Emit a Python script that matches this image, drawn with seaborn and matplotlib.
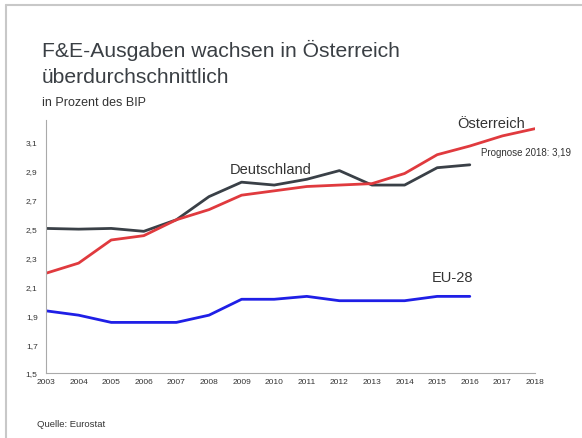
import matplotlib
matplotlib.use("Agg")
import matplotlib.pyplot as plt
import seaborn as sns
import pandas as pd
from matplotlib.lines import Line2D

years = list(range(2003, 2019))
deutschland = [2.50, 2.495, 2.50, 2.48, 2.56, 2.72, 2.82, 2.80, 2.84, 2.90, 2.80, 2.80, 2.92, 2.94]
oesterreich = [2.19, 2.26, 2.42, 2.45, 2.56, 2.63, 2.73, 2.76, 2.79, 2.80, 2.81, 2.88, 3.01, 3.07, 3.14, 3.19]
eu28 = [1.93, 1.90, 1.85, 1.85, 1.85, 1.90, 2.01, 2.01, 2.03, 2.00, 2.00, 2.00, 2.03, 2.03]
y_ticks = [1.5, 1.7, 1.9, 2.1, 2.3, 2.5, 2.7, 2.9, 3.1]
y_tick_labels = ["1,5", "1,7", "1,9", "2,1", "2,3", "2,5", "2,7", "2,9", "3,1"]

rows = []
for name, vals in [("Deutschland", deutschland), ("Österreich", oesterreich), ("EU-28", eu28)]:
    for y, v in zip(years, vals):
        rows.append({"Jahr": y, "Wert": v, "Land": name})
df = pd.DataFrame(rows)

sns.set_theme(style="white")
plt.rcParams["font.family"] = ["Liberation Sans", "DejaVu Sans"]

fig = plt.figure(figsize=(5.82, 4.39), dpi=100)
ax = fig.add_axes([46 / 582, (439 - 374) / 439, (535 - 46) / 582, (374 - 121) / 439])

palette = {"Deutschland": "#3a4047", "Österreich": "#e03a3e", "EU-28": "#1f1fe6"}
sns.lineplot(data=df, x="Jahr", y="Wert", hue="Land", palette=palette, ax=ax,
             linewidth=2.0, legend=False, solid_joinstyle="round", solid_capstyle="round")

ax.set_xlim(2003, 2018)
ax.set_ylim(1.5, 3.25)
ax.set_xticks(years)
ax.set_xticklabels([str(y) for y in years], fontsize=6, color="#333333")
ax.set_yticks(y_ticks)
ax.set_yticklabels(y_tick_labels, fontsize=6, color="#333333")
ax.set_xlabel("")
ax.set_ylabel("")
for s in ["top", "right"]:
    ax.spines[s].set_visible(False)
for s in ["left", "bottom"]:
    ax.spines[s].set_color("#aaaaaa")
    ax.spines[s].set_linewidth(0.8)
ax.tick_params(axis="x", direction="inout", length=3, width=0.6, color="#aaaaaa", pad=2)
ax.tick_params(axis="y", direction="out", length=3, width=0.6, color="#aaaaaa", pad=3)
ax.grid(False)

ax.text(2008.65, 2.91, "Deutschland", fontsize=10.5, color="#333333", va="center", ha="left")
ax.text(2015.6, 3.23, "Österreich", fontsize=10.5, color="#333333", va="center", ha="left")
ax.text(2016.35, 3.03, "Prognose 2018: 3,19", fontsize=7, color="#333333", va="center", ha="left")
ax.text(2014.84, 2.165, "EU-28", fontsize=10.5, color="#333333", va="center", ha="left")

fig.text(42 / 582, 1 - 57 / 439, "F&E-Ausgaben wachsen in Österreich", fontsize=15.2,
         color="#3a3f44", va="baseline", ha="left")
fig.text(42 / 582, 1 - 83 / 439, "überdurchschnittlich", fontsize=15.2,
         color="#3a3f44", va="baseline", ha="left")
fig.text(42 / 582, 1 - 103 / 439, "in Prozent des BIP", fontsize=9,
         color="#333333", va="center", ha="left")
fig.text(37 / 582, 1 - 425 / 439, "Quelle: Eurostat", fontsize=6.8,
         color="#333333", va="center", ha="left")

fig.add_artist(Line2D([6 / 582, 6 / 582], [0, 1 - 6 / 439], transform=fig.transFigure,
                      color="#c8c8c8", linewidth=1.5))
fig.add_artist(Line2D([6 / 582, 1], [1 - 6 / 439, 1 - 6 / 439], transform=fig.transFigure,
                      color="#c8c8c8", linewidth=1.5))

fig.savefig("out.png", dpi=100)
